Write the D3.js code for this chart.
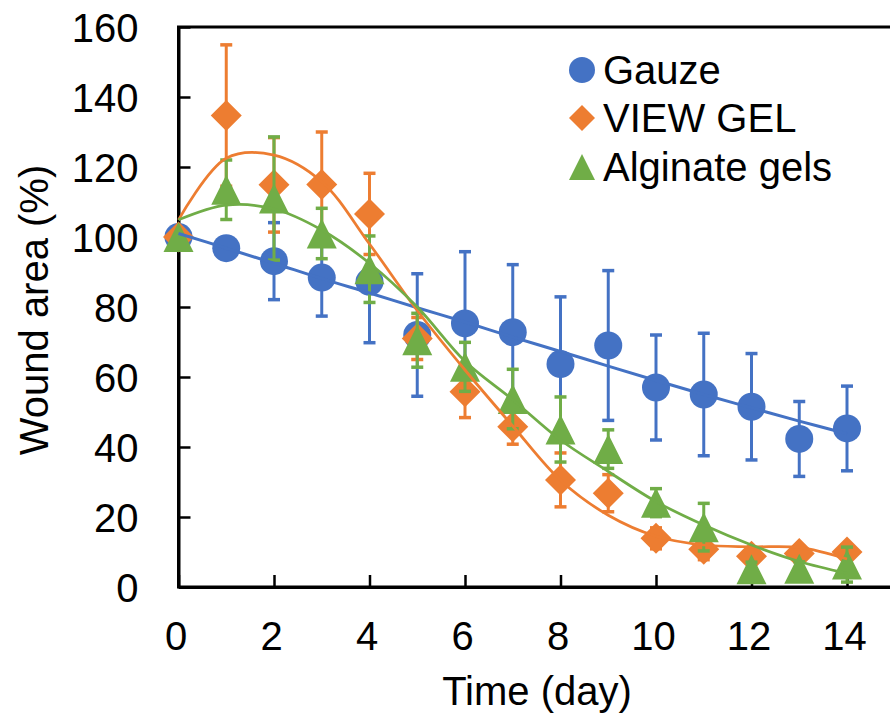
<!DOCTYPE html>
<html>
<head>
<meta charset="utf-8">
<script src="https://cdn.jsdelivr.net/npm/d3@7"></script>
<style>
  body { margin: 0; background: #fff; }
  svg text { font-family: "Liberation Sans", Arial, sans-serif; fill: #000; }
</style>
</head>
<body>
<div id="chart"></div>
<script>
// data
const days = [0, 1, 2, 3, 4, 5, 6, 7, 8, 9, 10, 11, 12, 13, 14];

const gauzeMean = [100, 96.8, 93.1, 88.4, 87.2, 72, 75.3, 72.8, 63.7, 69, 57, 55, 51.5, 42.3, 45.3];
const gauzeSd = [0, 3, 11, 11, 17.4, 17.5, 20.5, 19.3, 19.2, 21.4, 15, 17.5, 15.2, 10.7, 12.1];

const viewGelMean = [100, 134.7, 114.9, 115, 106.6, 71, 55.8, 45.8, 30.6, 26.8, 13.9, 10.8, 8.8, 9.6, 10];
const viewGelSd = [0, 20.2, 13.5, 15, 11.6, 6, 7.4, 5, 7.7, 5.3, 3, 3, 2, 2, 2];

const alginateMean = [100, 113.5, 111, 101, 90.8, 70.5, 62.9, 53.7, 45, 39.4, 24.1, 17.1, 5.1, 5.2, 6.4];
const alginateSd = [0, 8.5, 17.6, 7.2, 9.5, 7.7, 7, 8.5, 9.3, 5.5, 4, 6.8, 2, 2, 5];

// trendlines as drawn in the figure
const gauzeTrend = [101, 96.8, 92.5, 88.1, 84, 79.8, 75.7, 71.4, 67.3, 63.1, 59, 55, 51.2, 47.4, 43.8];
const viewGelTrend = [104.9, 122.5, 123.4, 115.8, 98, 79, 62, 46, 30.5, 20.5, 14.5, 12, 11.5, 11.3, 8];
const alginateTrend = [104.9, 109.1, 108, 102, 92.5, 80, 64.5, 53.5, 42, 33, 24.4, 17.7, 12, 7.3, 3.9];

const xTicks = [0, 2, 4, 6, 8, 10, 12, 14];
const yTicks = [0, 20, 40, 60, 80, 100, 120, 140, 160];

const seriesNames = ["Gauze", "VIEW GEL", "Alginate gels"];
const colors = ["#4472C4", "#ED7D31", "#70AD47"];
const shapes = ["circle", "diamond", "triangle"];

const W = 890, H = 718;
const x = d3.scaleLinear().domain([0, 15]).range([178.5, 894.75]);
const y = d3.scaleLinear().domain([0, 160]).range([587, 27]);

const svg = d3.select("#chart").append("svg")
    .attr("width", W)
    .attr("height", H);

// marker paths
function markerPath(shape, s) {
    if (shape === "diamond") {
        return `M0,${-s}L${s},0L0,${s}L${-s},0Z`;
    }
    if (shape === "triangle") {
        return `M0,${-s}L${s},${s}L${-s},${s}Z`;
    }
    return d3.symbol(d3.symbolCircle, Math.PI * s * s)();
}

// frame
svg.append("rect")
    .attr("x", x(0))
    .attr("y", y(160))
    .attr("width", x(15) - x(0))
    .attr("height", y(0) - y(160))
    .attr("fill", "none")
    .attr("stroke", "#000")
    .attr("stroke-width", 3);

// axes with inward ticks
const xAxis = svg.append("g")
    .attr("transform", `translate(0,${y(0)})`)
    .call(d3.axisBottom(x).tickValues(xTicks).tickSizeInner(-12).tickSizeOuter(0).tickPadding(35));

const yAxis = svg.append("g")
    .attr("transform", `translate(${x(0)},0)`)
    .call(d3.axisLeft(y).tickValues(yTicks).tickSizeInner(-12).tickSizeOuter(0).tickPadding(40));

[xAxis, yAxis].forEach(g => {
    g.select(".domain").attr("stroke", "#000").attr("stroke-width", 3);
    g.selectAll(".tick line").attr("stroke", "#000").attr("stroke-width", 2.5);
    g.selectAll(".tick text")
        .style("font-size", "40px")
        .style("font-family", "'Liberation Sans', Arial, sans-serif")
        .attr("fill", "#000");
});
xAxis.selectAll(".tick text").attr("dx", -3);
yAxis.selectAll(".tick text").attr("dy", "0.36em");

// axis titles
svg.append("text")
    .attr("x", 537)
    .attr("y", 705)
    .attr("text-anchor", "middle")
    .style("font-size", "40px")
    .text("Time (day)");

svg.append("text")
    .attr("transform", `translate(48,310) rotate(-90)`)
    .attr("text-anchor", "middle")
    .style("font-size", "40px")
    .text("Wound area (%)");

const series = [
    { mean: gauzeMean, sd: gauzeSd, trend: gauzeTrend },
    { mean: viewGelMean, sd: viewGelSd, trend: viewGelTrend },
    { mean: alginateMean, sd: alginateSd, trend: alginateTrend }
];
const markerSize = [14, 15.5, 15];

series.forEach((s, i) => {
    const pts = days.map((d, j) => ({ d, m: s.mean[j], e: s.sd[j] })).filter(p => p.e > 0);
    const g = svg.append("g");

    g.selectAll(".bar").data(pts).enter().append("line")
        .attr("x1", p => x(p.d)).attr("x2", p => x(p.d))
        .attr("y1", p => y(p.m - p.e)).attr("y2", p => y(p.m + p.e))
        .attr("stroke", colors[i]).attr("stroke-width", 3);

    g.selectAll(".cap").data(pts.flatMap(p => [p.m - p.e, p.m + p.e].map(v => ({ d: p.d, v }))))
        .enter().append("line")
        .attr("x1", p => x(p.d) - 6).attr("x2", p => x(p.d) + 6)
        .attr("y1", p => y(p.v)).attr("y2", p => y(p.v))
        .attr("stroke", colors[i]).attr("stroke-width", 3.5);

    g.selectAll(".pt").data(days).enter().append("path")
        .attr("transform", (d, j) => `translate(${x(d)},${y(s.mean[j])})`)
        .attr("d", markerPath(shapes[i], markerSize[i]))
        .attr("fill", colors[i]);
});

// trendlines on top
const line = d3.line()
    .x(d => x(d[0]))
    .y(d => y(d[1]))
    .curve(d3.curveCatmullRom.alpha(0.5));

series.forEach((s, i) => {
    svg.append("path")
        .datum(days.map((d, j) => [d, s.trend[j]]))
        .attr("d", line)
        .attr("fill", "none")
        .attr("stroke", colors[i])
        .attr("stroke-width", i === 0 ? 3 : 2.75);
});

// legend
const legend = svg.append("g");
const legendY = [70, 118, 167];
seriesNames.forEach((name, i) => {
    legend.append("path")
        .attr("transform", `translate(582,${legendY[i]})`)
        .attr("d", markerPath(shapes[i], 13))
        .attr("fill", colors[i]);
    legend.append("text")
        .attr("x", 603)
        .attr("y", legendY[i])
        .attr("dy", "0.36em")
        .style("font-size", "40px")
        .text(name);
});
</script>
</body>
</html>
